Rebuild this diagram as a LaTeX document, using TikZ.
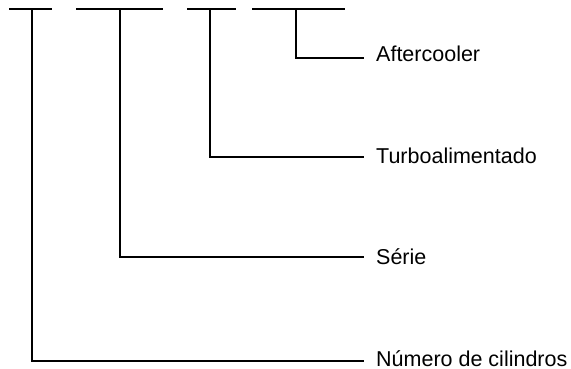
\documentclass[tikz,border=0pt]{standalone}
\usepackage{fontspec}
\setmainfont{Liberation Sans}
\begin{document}
\begin{tikzpicture}[x=1pt,y=-1pt,
  bar/.style={line width=1.6pt},
  lead/.style={line width=1.6pt},
  lbl/.style={anchor=base west,inner sep=0pt,text depth=0pt,font=\fontsize{21.5}{24}\selectfont}]
\useasboundingbox (0,0) rectangle (571,369);
% top bars
\coordinate (a1) at (9,9);   \coordinate (a2) at (52,9);
\coordinate (b1) at (76,9);  \coordinate (b2) at (163,9);
\coordinate (c1) at (187,9); \coordinate (c2) at (236,9);
\coordinate (d1) at (252,9); \coordinate (d2) at (345,9);
\draw[bar] (a1) -- (a2);
\draw[bar] (b1) -- (b2);
\draw[bar] (c1) -- (c2);
\draw[bar] (d1) -- (d2);
% taps
\coordinate (ta) at (32,9);
\coordinate (tb) at (120,9);
\coordinate (tc) at (210,9);
\coordinate (td) at (296,9);
% line ends
\coordinate (ea) at (364,361);
\coordinate (eb) at (364,257);
\coordinate (ec) at (364,157);
\coordinate (ed) at (364,58);
% labels
\node[lbl] (la) at (376,366) {Número de cilindros};
\node[lbl] (lb) at (376,264) {Série};
\node[lbl] (lc) at (376,163) {Turboalimentado};
\node[lbl] (ld) at (376,62) {Aftercooler};
% leaders
\draw[lead] (ta) |- (ea);
\draw[lead] (tb) |- (eb);
\draw[lead] (tc) |- (ec);
\draw[lead] (td) |- (ed);
\end{tikzpicture}
\end{document}
